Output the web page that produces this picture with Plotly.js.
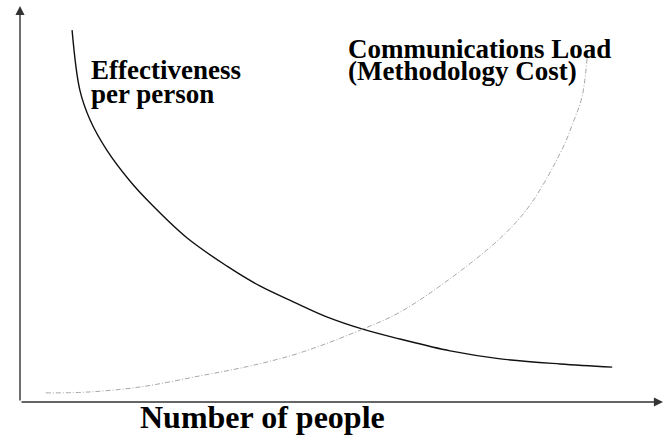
<!DOCTYPE html>
<html>
<head>
<meta charset="utf-8">
<script src="https://cdn.plot.ly/plotly-3.0.1.min.js"></script>
<style>
  html, body { margin: 0; padding: 0; background: #fff; }
  #chart { width: 670px; height: 435px; }
</style>
</head>
<body>
<div id="chart"></div>
<script>
  /* ── data (arbitrary units, 0..10) ── */
  const effX = [0.81, 0.93, 1.09, 1.35, 1.71, 2.02, 2.60, 3.22, 3.73, 4.25, 4.77, 5.33, 5.91, 6.69, 7.47, 8.40, 9.21];
  const effY = [9.39, 7.88, 7.12, 6.36, 5.58, 5.03, 4.14, 3.43, 2.93, 2.53, 2.15, 1.84, 1.59, 1.29, 1.09, 0.96, 0.88];

  const commX = [0.40, 1.04, 1.87, 2.80, 3.58, 4.35, 5.33, 5.91, 6.66, 7.47, 7.93, 8.44, 8.60, 8.74, 8.82];
  const commY = [0.23, 0.25, 0.38, 0.66, 0.91, 1.24, 1.84, 2.27, 3.08, 4.14, 4.97, 6.41, 7.05, 7.70, 8.69];

  const SERIF = '"Liberation Serif", Tinos, "Times New Roman", "DejaVu Serif", serif';

  const label = (text, x, y, size, ref) => ({
    text: '<b>' + text + '</b>', x, y,
    xref: ref || 'x', yref: ref ? ref : 'y',
    xanchor: 'left', yanchor: 'middle', showarrow: false,
    font: { family: SERIF, size: size, color: '#000' }
  });

  const axisArrow = (x, y) => ({
    x, y, ax: 0, ay: 0, xref: 'x', yref: 'y', axref: 'x', ayref: 'y',
    text: '', showarrow: true, arrowhead: 2, arrowsize: 1.3,
    arrowwidth: 1.4, arrowcolor: '#333', standoff: 0, startstandoff: 0
  });

  Plotly.newPlot('chart', [
    {
      x: effX, y: effY, mode: 'lines', name: 'Effectiveness per person',
      line: { color: '#111', width: 1.4, shape: 'spline' }
    },
    {
      x: commX, y: commY, mode: 'lines', name: 'Communications Load',
      line: { color: '#a8a8a8', width: 1, shape: 'spline', dash: '5px,2px,1px,2px' }
    }
  ], {
    width: 670, height: 435,
    paper_bgcolor: '#fff', plot_bgcolor: '#fff',
    font: { family: SERIF },
    margin: { l: 20, r: 7, t: 6, b: 33 },
    showlegend: false,
    xaxis: { range: [0, 10], visible: false, fixedrange: true },
    yaxis: { range: [0, 10], visible: false, fixedrange: true },
    annotations: [
      axisArrow(10, 0),
      axisArrow(0, 10),
      label('Effectiveness', 1.07, 8.38, 27),
      label('per person', 1.07, 7.78, 27),
      label('Communications Load', 5.07, 8.91, 27),
      label('(Methodology Cost)', 5.07, 8.36, 27),
      label('Number of people', 0.1835, -0.038, 32, 'paper'),
      label('page', 0.557, 1.054, 27, 'paper')
    ]
  }, { displayModeBar: false, staticPlot: true });
</script>
</body>
</html>
